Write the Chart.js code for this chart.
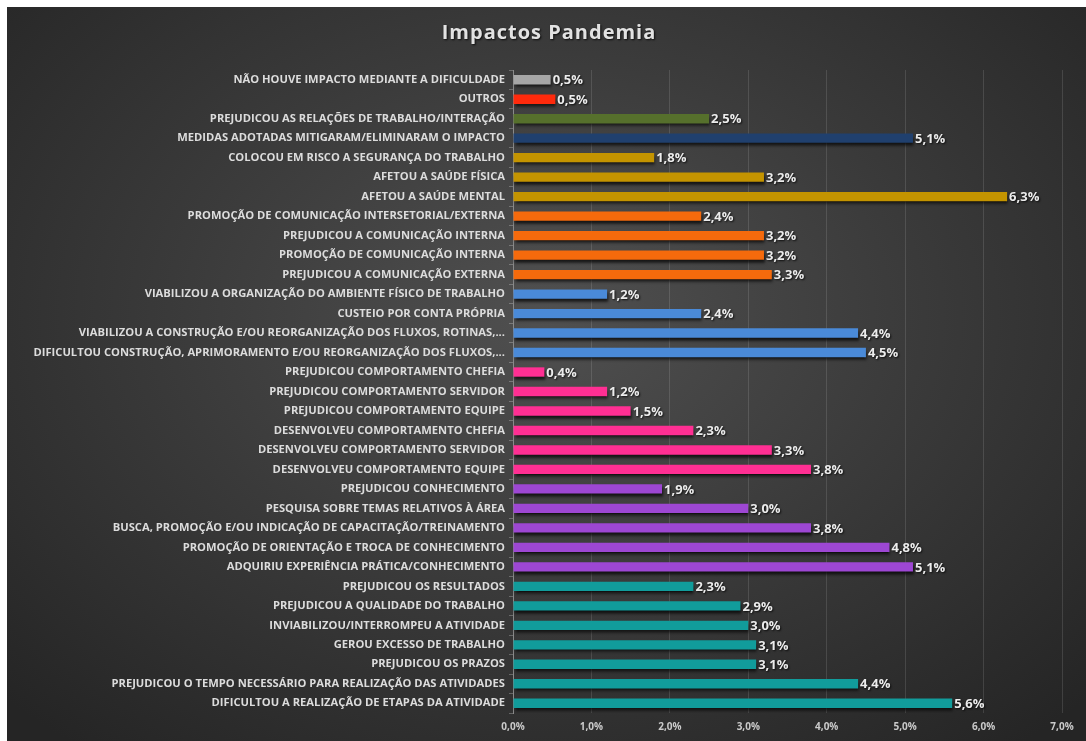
<!DOCTYPE html>
<html>
<head>
<meta charset="utf-8">
<script src="https://cdn.jsdelivr.net/npm/chart.js@4.4.1/dist/chart.umd.min.js"></script>
<style>
  html, body { margin: 0; padding: 0; background: #ffffff; }
  #wrap {
    position: absolute; left: 7px; top: 7px; width: 1079px; height: 734px;
    background: radial-gradient(ellipse 70% 75% at 50% 42%, #505050 0%, #3a3a3a 50%, #252525 100%);
  }
</style>
</head>
<body>
<div id="wrap"><canvas id="chart"></canvas></div>
<script>
const titulo = 'Impactos Pandemia';

const categorias = [
  'NÃO HOUVE IMPACTO MEDIANTE A DIFICULDADE',
  'OUTROS',
  'PREJUDICOU AS RELAÇÕES DE TRABALHO/INTERAÇÃO',
  'MEDIDAS ADOTADAS MITIGARAM/ELIMINARAM O IMPACTO',
  'COLOCOU EM RISCO A SEGURANÇA DO TRABALHO',
  'AFETOU A SAÚDE FÍSICA',
  'AFETOU A SAÚDE MENTAL',
  'PROMOÇÃO DE COMUNICAÇÃO INTERSETORIAL/EXTERNA',
  'PREJUDICOU A COMUNICAÇÃO INTERNA',
  'PROMOÇÃO DE COMUNICAÇÃO INTERNA',
  'PREJUDICOU A COMUNICAÇÃO EXTERNA',
  'VIABILIZOU A ORGANIZAÇÃO DO AMBIENTE FÍSICO DE TRABALHO',
  'CUSTEIO POR CONTA PRÓPRIA',
  'VIABILIZOU A CONSTRUÇÃO E/OU REORGANIZAÇÃO DOS FLUXOS, ROTINAS,...',
  'DIFICULTOU CONSTRUÇÃO, APRIMORAMENTO E/OU REORGANIZAÇÃO DOS FLUXOS,...',
  'PREJUDICOU COMPORTAMENTO CHEFIA',
  'PREJUDICOU COMPORTAMENTO SERVIDOR',
  'PREJUDICOU COMPORTAMENTO EQUIPE',
  'DESENVOLVEU COMPORTAMENTO CHEFIA',
  'DESENVOLVEU COMPORTAMENTO SERVIDOR',
  'DESENVOLVEU COMPORTAMENTO EQUIPE',
  'PREJUDICOU CONHECIMENTO',
  'PESQUISA SOBRE TEMAS RELATIVOS À ÁREA',
  'BUSCA, PROMOÇÃO E/OU INDICAÇÃO DE CAPACITAÇÃO/TREINAMENTO',
  'PROMOÇÃO DE ORIENTAÇÃO E TROCA DE CONHECIMENTO',
  'ADQUIRIU EXPERIÊNCIA PRÁTICA/CONHECIMENTO',
  'PREJUDICOU OS RESULTADOS',
  'PREJUDICOU A QUALIDADE DO TRABALHO',
  'INVIABILIZOU/INTERROMPEU A ATIVIDADE',
  'GEROU EXCESSO DE TRABALHO',
  'PREJUDICOU OS PRAZOS',
  'PREJUDICOU O TEMPO NECESSÁRIO PARA REALIZAÇÃO DAS ATIVIDADES',
  'DIFICULTOU A REALIZAÇÃO DE ETAPAS DA ATIVIDADE'
];

// percentuais (%)
const valores = [
  0.48, 0.54, 2.5, 5.1, 1.8, 3.2, 6.3,
  2.4, 3.2, 3.2, 3.3,
  1.2, 2.4, 4.4, 4.5,
  0.4, 1.2, 1.5, 2.3, 3.3, 3.8,
  1.9, 3.0, 3.8, 4.8, 5.1,
  2.3, 2.9, 3.0, 3.1, 3.1, 4.4, 5.6
];

const ticksX = [0, 1, 2, 3, 4, 5, 6, 7];

// cor de cada grupo
const cores = [
  '#a6a6a6', '#ff2a0c', '#56702c', '#20406e', '#c49400', '#c49400', '#c49400',
  '#f56a0c', '#f56a0c', '#f56a0c', '#f56a0c',
  '#4a8ad8', '#4a8ad8', '#4a8ad8', '#4a8ad8',
  '#ff2f93', '#ff2f93', '#ff2f93', '#ff2f93', '#ff2f93', '#ff2f93',
  '#9d47d3', '#9d47d3', '#9d47d3', '#9d47d3', '#9d47d3',
  '#119c9b', '#119c9b', '#119c9b', '#119c9b', '#119c9b', '#119c9b', '#119c9b'
];

const fmt = v => v.toFixed(1).replace('.', ',') + '%';

// sombra nas barras
const sombra = {
  id: 'sombra',
  beforeDatasetsDraw(chart) {
    const c = chart.ctx;
    c.save();
    c.shadowColor = 'rgba(0,0,0,0.7)';
    c.shadowOffsetX = 1;
    c.shadowOffsetY = 3;
    c.shadowBlur = 3;
  },
  afterDatasetsDraw(chart) {
    chart.ctx.restore();
  }
};

// rótulos de valor + título
const rotulos = {
  id: 'rotulos',
  afterDatasetsDraw(chart) {
    const c = chart.ctx;
    const meta = chart.getDatasetMeta(0);
    c.save();
    c.font = 'bold 13px "Open Sans"';
    c.fillStyle = '#ececec';
    c.textBaseline = 'middle';
    c.shadowColor = 'rgba(0,0,0,0.8)';
    c.shadowOffsetX = 1;
    c.shadowOffsetY = 1;
    c.shadowBlur = 2;
    meta.data.forEach((bar, i) => {
      c.fillText(fmt(valores[i]), bar.x + 2, bar.y + 1);
    });
    c.font = 'bold 20px "Open Sans"';
    c.letterSpacing = '1px';
    c.fillStyle = '#e2e2e2';
    c.textAlign = 'center';
    c.fillText(titulo, 542, 26);
    c.restore();
  }
};

new Chart(document.getElementById('chart'), {
  type: 'bar',
  data: {
    labels: categorias,
    datasets: [{
      data: valores,
      backgroundColor: cores,
      borderWidth: 0,
      categoryPercentage: 1,
      barPercentage: 0.48
    }]
  },
  options: {
    indexAxis: 'y',
    responsive: true,
    maintainAspectRatio: false,
    animation: false,
    layout: { padding: { top: 63, right: 24, bottom: 8, left: 0 } },
    plugins: {
      legend: { display: false },
      tooltip: { enabled: false },
      title: { display: false }
    },
    scales: {
      x: {
        min: 0,
        max: 7,
        afterBuildTicks(scale) { scale.ticks = ticksX.map(v => ({ value: v })); },
        afterFit(scale) { scale.height = 20; },
        ticks: {
          color: '#cacaca',
          font: { family: '"Open Sans"', size: 10, weight: 'bold' },
          padding: 8,
          callback: v => fmt(v)
        },
        grid: { color: 'rgba(255,255,255,0.12)', drawTicks: false },
        border: { display: false }
      },
      y: {
        afterFit(scale) { scale.width = 506; },
        ticks: {
          color: '#dcdcdc',
          font: { family: '"Open Sans"', size: 11.2, weight: 'bold' },
          padding: 4,
          autoSkip: false
        },
        grid: { drawOnChartArea: false, color: 'rgba(255,255,255,0.25)', tickLength: 4 },
        border: { color: '#8a8a8a', width: 1 }
      }
    }
  },
  plugins: [sombra, rotulos]
});
</script>
</body>
</html>
